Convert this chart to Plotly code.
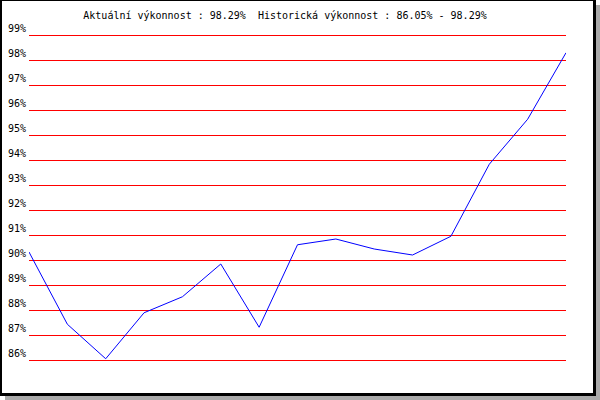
import plotly.graph_objects as go

# Data
periods = list(range(1, 16))
performance = [90.32, 87.43, 86.05, 87.89, 88.53, 89.84, 87.31, 90.61,
               90.84, 90.44, 90.20, 90.95, 93.83, 95.63, 98.29]
tick_values = [86, 87, 88, 89, 90, 91, 92, 93, 94, 95, 96, 97, 98, 99]
tick_labels = [f"{v}%" for v in tick_values]
title_text = "Aktuální výkonnost : 98.29%  Historická výkonnost : 86.05% - 98.29%"

W, H = 600, 400
def px(x):
    return x / W
def py(y):
    return 1 - y / H

font_family = "DejaVu Sans Mono, Liberation Mono, monospace"

fig = go.Figure()
fig.add_trace(go.Scatter(
    x=periods, y=performance, mode="lines",
    line=dict(color="#0000ff", width=1),
    hoverinfo="skip", showlegend=False,
))

shapes = [
    dict(type="rect", xref="paper", yref="paper", x0=px(5), x1=px(600), y0=py(400), y1=py(5),
         fillcolor="#aaaaaa", line=dict(width=0), layer="below"),
    dict(type="rect", xref="paper", yref="paper", x0=px(0), x1=px(596), y0=py(396), y1=py(0),
         fillcolor="#000000", line=dict(width=0), layer="below"),
    dict(type="rect", xref="paper", yref="paper", x0=px(2), x1=px(593), y0=py(393), y1=py(1),
         fillcolor="#ffffff", line=dict(width=0), layer="below"),
]

# 25 px per percent; range extended by 0.1 (2.5 px) on each side
fig.update_layout(
    template="none",
    width=W, height=H,
    margin=dict(l=0, r=0, t=0, b=0, pad=0, autoexpand=False),
    paper_bgcolor="#ffffff",
    plot_bgcolor="rgba(0,0,0,0)",
    shapes=shapes,
    showlegend=False,
    font=dict(family=font_family, size=10, color="#000000"),
    title=dict(text=title_text, x=px(285), y=py(15), xanchor="center", yanchor="middle",
               xref="paper", yref="paper", automargin=False,
               font=dict(family=font_family, size=10, color="#000000")),
    xaxis=dict(range=[1, 15], domain=[px(29), px(566)], visible=False,
               showgrid=False, zeroline=False, automargin=False),
    yaxis=dict(range=[85.9, 99.1], domain=[py(362.5), py(32.5)],
               tickvals=tick_values, ticktext=tick_labels,
               showgrid=True, gridcolor="#ff0000", gridwidth=1,
               zeroline=False, showline=False, ticks="", automargin=False,
               ticklabelstandoff=2, ticklabelshift=-7,
               tickfont=dict(family=font_family, size=10, color="#000000")),
)

post = (
    "var st=document.createElement('style');"
    "st.textContent='html,body{margin:0!important;padding:0!important;overflow:hidden!important;}';"
    "document.head.appendChild(st);"
)

fig.write_html("out.html", config={"displayModeBar": False, "staticPlot": True},
               post_script=post)
